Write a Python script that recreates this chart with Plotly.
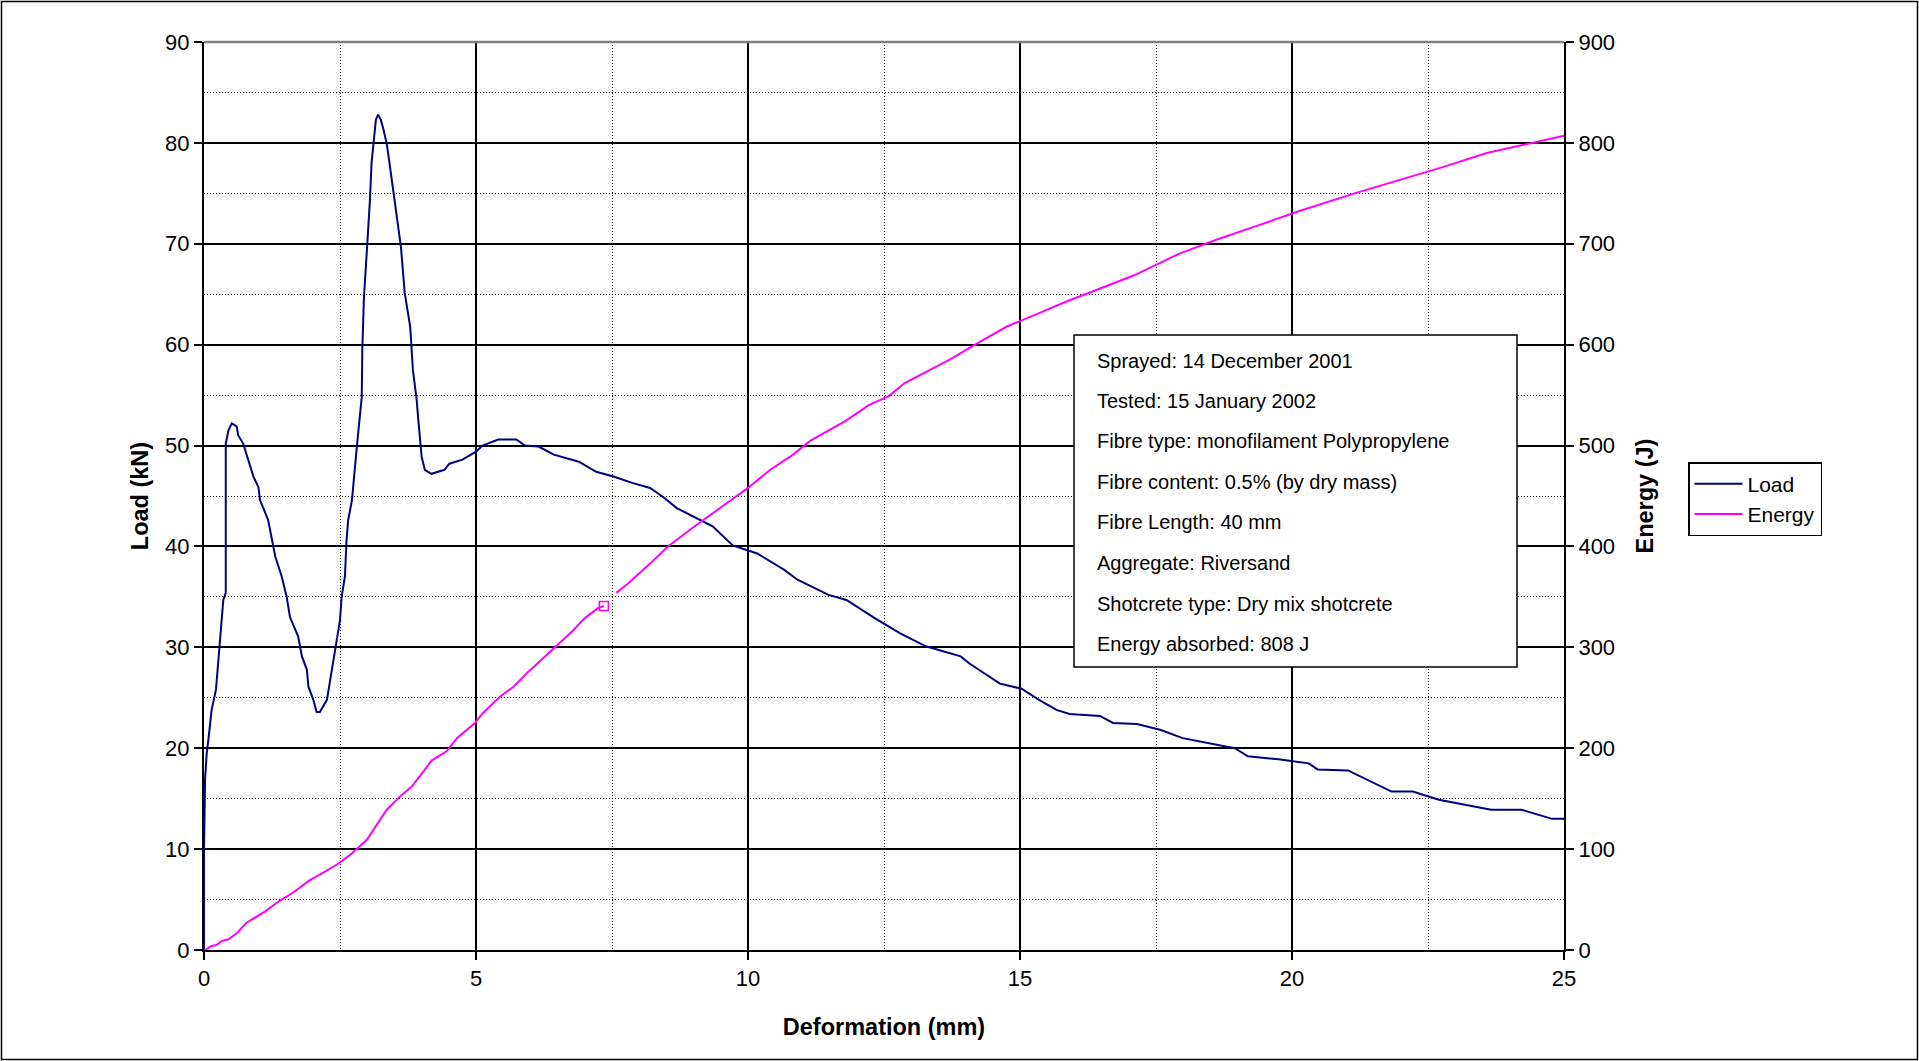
import plotly.graph_objects as go

# ---------------- data ----------------
load_x = [0, 0, 0.02, 0.05, 0.08, 0.14, 0.22, 0.355, 0.40, 0.40, 0.45, 0.51, 0.60, 0.63, 0.72,
          0.81, 0.91, 1.0, 1.03, 1.18, 1.27, 1.31, 1.43, 1.52, 1.58, 1.73, 1.80, 1.89, 1.92,
          2.01, 2.07, 2.13, 2.26, 2.32, 2.38, 2.44, 2.50, 2.53, 2.59, 2.62, 2.65, 2.72, 2.75,
          2.81, 2.87, 2.90, 2.91, 2.94, 2.98, 3.02, 3.05, 3.08, 3.13, 3.16, 3.20, 3.25, 3.30,
          3.36, 3.41, 3.48, 3.54, 3.62, 3.69, 3.79, 3.84, 3.91, 3.94, 3.97, 4.0, 4.06, 4.18,
          4.42, 4.51, 4.75, 5.0, 5.12, 5.41, 5.74, 5.90, 6.15, 6.43, 6.89, 7.21, 7.54, 7.87,
          8.20, 8.44, 8.69, 9.02, 9.35, 9.72, 10.17, 10.66, 10.91, 11.48, 11.81, 12.30, 12.79,
          13.27, 13.91, 14.07, 14.63, 15.03, 15.35, 15.67, 15.91, 16.47, 16.71, 17.15, 17.59,
          17.99, 18.39, 18.95, 19.19, 19.75, 20.31, 20.47, 21.03, 21.83, 22.22, 22.70, 23.18,
          23.66, 24.22, 24.54, 24.78, 25.0]
load_kn = [0, 10, 17, 19.5, 20.8, 23.8, 25.8, 34.7, 35.4, 50.2, 51.5, 52.2, 51.9, 51.0, 50.2,
           48.6, 46.9, 45.9, 44.6, 42.6, 40.3, 39.0, 37.0, 35.0, 33.0, 31.1, 29.1, 27.8, 26.1,
           24.8, 23.6, 23.6, 24.8, 26.8, 28.7, 30.7, 32.7, 35.0, 37.0, 40.6, 42.6, 44.6, 46.6,
           49.9, 53.2, 54.8, 59.5, 64.7, 68.1, 71.4, 74.3, 78.0, 80.3, 82.3, 82.8, 82.3, 81.3,
           79.9, 78.0, 75.3, 72.7, 69.7, 65.1, 61.8, 57.5, 54.5, 52.5, 50.9, 48.9, 47.6, 47.2,
           47.6, 48.2, 48.6, 49.4, 50.0, 50.6, 50.6, 50.0, 49.9, 49.1, 48.4, 47.4, 46.9, 46.3,
           45.8, 44.9, 43.8, 42.9, 42.0, 40.1, 39.3, 37.7, 36.7, 35.2, 34.7, 33.0, 31.4,
           30.1, 29.1, 28.4, 26.4, 25.9, 24.8, 23.8, 23.4, 23.2, 22.5, 22.4, 21.8,
           21.0, 20.6, 20.0, 19.2, 18.9, 18.5, 17.9, 17.8, 15.7, 15.7, 14.9, 14.4,
           13.9, 13.9, 13.4, 13.0, 13.0]

energy_x = [0, 0.02, 0.14, 0.23, 0.33, 0.45, 0.60, 0.78, 1.12, 1.37, 1.64, 1.88, 1.94, 2.2, 2.45,
            2.68, 2.99, 3.36, 3.60, 3.82, 4.19, 4.46, 4.65, 4.98, 5.13, 5.44, 5.69, 5.93, 6.48,
            6.79, 7.00, 7.25, 7.35, None, 7.58, 7.79, 8.20, 8.53, 9.02, 9.51, 10.0, 10.41, 10.83,
            11.15, 11.81, 12.22, 12.59, 12.88, 13.37, 13.70, 14.27, 14.76, 15.34, 15.91, 16.30,
            17.11, 17.92, 18.61, 19.42, 20.11, 21.15, 21.85, 22.77, 23.58, 24.27, 25.0]
energy_j = [0, 0, 4, 5, 9, 10.6, 16.5, 27, 38, 48, 57, 66, 69, 77, 85,
            94, 109, 139, 152, 162, 188, 197, 210, 225, 235, 251, 261, 274, 301,
            317, 329, 339, 341, None, 354, 363, 383, 400, 420, 439, 458, 476, 491,
            505, 525, 540, 549, 562, 576, 585, 603, 618, 631, 644, 652,
            669, 690, 704, 719, 732, 750, 761, 776, 790, 798, 807]

marker_x = [7.35]
marker_j = [341]

info_lines = [
    "Sprayed: 14 December 2001",
    "Tested: 15 January 2002",
    "Fibre type: monofilament Polypropylene",
    "Fibre content: 0.5% (by dry mass)",
    "Fibre Length: 40 mm",
    "Aggregate: Riversand",
    "Shotcrete type: Dry mix shotcrete",
    "Energy absorbed: 808 J",
]

# ---------------- figure ----------------
FONT = "Liberation Sans, Arial, sans-serif"
W, H = 1919, 1061
L, R, T, B = 204, 355, 42, 111
PW, PH = W - L - R, H - T - B


def px_x(p):
    return (p - L) / PW


def px_y(p):
    return (H - B - p) / PH


fig = go.Figure()
fig.add_trace(go.Scatter(x=load_x, y=load_kn, mode="lines", name="Load",
                         line=dict(color="#000080", width=2)))
fig.add_trace(go.Scatter(x=energy_x, y=energy_j, mode="lines", name="Energy", yaxis="y2",
                         line=dict(color="#FF00FF", width=2), connectgaps=False))
fig.add_trace(go.Scatter(x=marker_x, y=marker_j, mode="markers", yaxis="y2", showlegend=False,
                         marker=dict(symbol="square-open", size=9, color="#FF00FF",
                                     line=dict(width=1.5, color="#FF00FF"))))

dotted = "1px,2px"
TITLE_FONT = dict(family=FONT, size=23.5, color="black")
TICK_FONT = dict(family=FONT, size=22, color="black")
fig.update_layout(
    width=W, height=H, autosize=False,
    margin=dict(l=L, r=R, t=T, b=B),
    paper_bgcolor="white", plot_bgcolor="white",
    font=dict(family=FONT, size=22, color="black"),
    showlegend=True,
    legend=dict(x=px_x(1688), y=px_y(462), xanchor="left", yanchor="top",
                bordercolor="black", borderwidth=1.5, bgcolor="white",
                font=dict(family=FONT, size=21, color="black"),
                tracegroupgap=0, itemwidth=48),
    xaxis=dict(range=[0, 25], dtick=5, tick0=0, showline=True, linecolor="black", linewidth=2,
               ticks="outside", ticklen=8, tickwidth=2, tickcolor="black",
               showgrid=True, gridcolor="black", gridwidth=1.5, zeroline=False,
               minor=dict(dtick=2.5, showgrid=True, gridcolor="black", griddash=dotted,
                          gridwidth=1, ticks=""),
               title=dict(text="<b>Deformation (mm)</b>", standoff=28, font=TITLE_FONT),
               tickfont=TICK_FONT),
    yaxis=dict(range=[0, 90], dtick=10, tick0=0, showline=True, linecolor="black", linewidth=2,
               ticks="outside", ticklen=8, tickwidth=2, tickcolor="black",
               showgrid=True, gridcolor="black", gridwidth=1.5, zeroline=False,
               minor=dict(dtick=5, showgrid=True, gridcolor="black", griddash=dotted,
                          gridwidth=1, ticks=""),
               title=dict(text="<b>Load (kN)</b>", standoff=10, font=TITLE_FONT),
               tickfont=TICK_FONT),
    yaxis2=dict(range=[0, 900], dtick=100, tick0=0, overlaying="y", side="right",
                showline=True, linecolor="black", linewidth=2,
                ticks="outside", ticklen=8, tickwidth=2, tickcolor="black",
                showgrid=False, zeroline=False,
                title=dict(text="<b>Energy (J)</b>", standoff=22, font=TITLE_FONT),
                tickfont=TICK_FONT),
)

# top border of plot area (grey)
fig.add_shape(type="line", xref="paper", yref="paper", x0=0, x1=1, y0=1, y1=1,
              line=dict(color="#808080", width=2.5), layer="above")

# info box
fig.add_shape(type="rect", xref="paper", yref="paper",
              x0=px_x(1074), x1=px_x(1517), y0=px_y(667), y1=px_y(335),
              fillcolor="white", line=dict(color="black", width=1.5), layer="above")
line_centres = [361, 400.5, 441, 482, 522, 562.5, 603.5, 644]
for txt, yc in zip(info_lines, line_centres):
    fig.add_annotation(xref="paper", yref="paper", x=px_x(1095), y=px_y(yc),
                       xanchor="left", yanchor="middle", showarrow=False, text=txt,
                       font=dict(family=FONT, size=20, color="black"))

# outer chart border
fig.add_shape(type="rect", xref="paper", yref="paper",
              x0=px_x(1.5), x1=px_x(1917.5), y0=px_y(1059.5), y1=px_y(1.5),
              line=dict(color="black", width=1.5), fillcolor="rgba(0,0,0,0)", layer="above")

fig.write_html("out.html", config={"displayModeBar": False},
               post_script="document.body.style.margin='0';document.body.style.overflow='hidden';")
